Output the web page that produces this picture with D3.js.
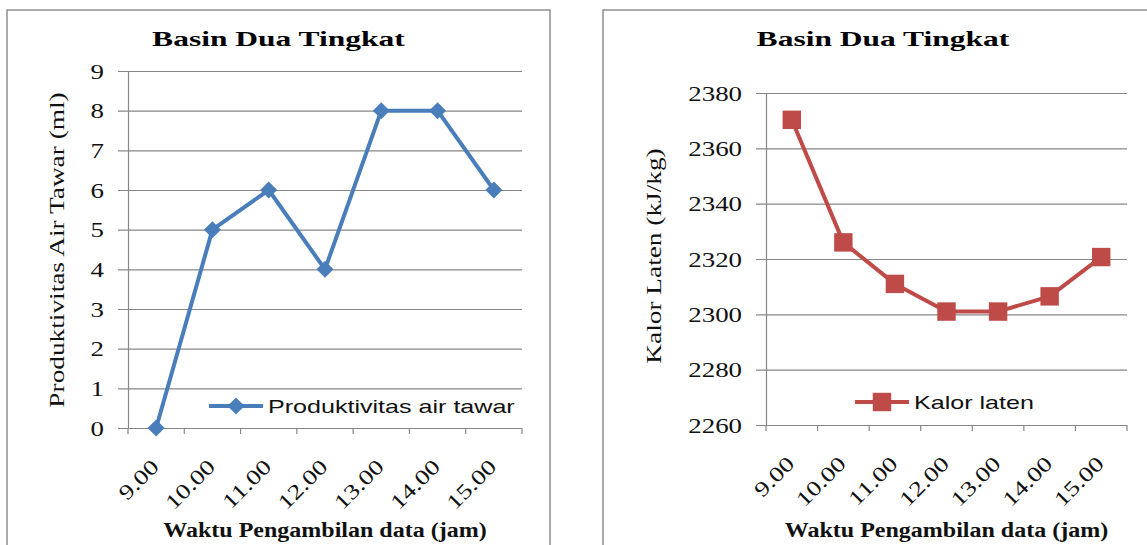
<!DOCTYPE html>
<html>
<head>
<meta charset="utf-8">
<script src="https://cdn.jsdelivr.net/npm/d3@7"></script>
<style>
  body { margin: 0; background: #fff; }
  svg { display: block; }
</style>
</head>
<body>
<svg id="chart"></svg>
<script>
const W = 1147, H = 545;

// data
const times = ["9.00", "10.00", "11.00", "12.00", "13.00", "14.00", "15.00"];
const produktivitas = [0, 5, 6, 4, 8, 8, 6];
const kalorLaten = [2370.3, 2326, 2311, 2301, 2301, 2306.5, 2320.7];
const prodTicks = [0, 1, 2, 3, 4, 5, 6, 7, 8, 9];
const kalorTicks = [2260, 2280, 2300, 2320, 2340, 2360, 2380];

const serif = "'Liberation Serif', 'Times New Roman', serif";
const sans = "'Liberation Sans', Arial, sans-serif";
const gridColor = "#878787";

const svg = d3.select("#chart").attr("width", W).attr("height", H);

// the original fonts render wider than Times/Arial, stretch them a bit
function widen(sel, k) {
  sel.each(function () {
    const w = this.getComputedTextLength();
    d3.select(this).attr("textLength", w * k).attr("lengthAdjust", "spacingAndGlyphs");
  });
}

function drawChart(o) {
  const g = svg.append("g");

  g.append("rect")
    .attr("x", o.frameX)
    .attr("y", 10)
    .attr("width", o.frameW)
    .attr("height", H)
    .attr("fill", "#fff")
    .attr("stroke", "#8f8f8f")
    .attr("stroke-width", 1.5);

  const x = d3.scaleBand().domain(times).range([o.left, o.right]);
  const y = d3.scaleLinear().domain(o.domain).range([o.bottom, o.top]);
  const bw = x.bandwidth();

  // y axis with gridlines
  const ya = g.append("g")
    .attr("transform", `translate(${o.left},0)`)
    .call(d3.axisLeft(y).tickValues(o.ticks).tickSizeOuter(0).tickFormat(d3.format("d")));
  ya.select(".domain").attr("stroke", gridColor).attr("stroke-width", 1.2);
  ya.selectAll(".tick line")
    .attr("x1", -10)
    .attr("x2", o.right - o.left)
    .attr("stroke", gridColor)
    .attr("stroke-width", 1.2);
  const yl = ya.selectAll(".tick text")
    .attr("x", o.labelRight - o.left)
    .attr("dy", "0.34em")
    .attr("fill", "#111")
    .style("font-family", serif)
    .style("font-size", "21px");
  widen(yl, 1.28);

  // x tick marks at category boundaries
  const bounds = times.map((t) => x(t)).concat([o.right]);
  g.append("g")
    .selectAll("line")
    .data(bounds)
    .join("line")
    .attr("x1", (d) => d)
    .attr("x2", (d) => d)
    .attr("y1", o.bottom)
    .attr("y2", o.bottom + 6)
    .attr("stroke", gridColor)
    .attr("stroke-width", 1.2);

  const xl = g.append("g")
    .selectAll("text")
    .data(times)
    .join("text")
    .attr("transform", (d) => `translate(${x(d) + bw / 2 + 4},${o.bottom + 40}) rotate(-45)`)
    .attr("text-anchor", "end")
    .attr("fill", "#111")
    .style("font-family", serif)
    .style("font-size", "21px")
    .text((d) => d);
  widen(xl, 1.28);

  // series line + markers
  const pts = times.map((t, i) => ({ t, v: o.values[i] }));
  const line = d3.line().x((d) => x(d.t) + bw / 2).y((d) => y(d.v));
  g.append("path")
    .datum(pts)
    .attr("d", line)
    .attr("fill", "none")
    .attr("stroke", o.color)
    .attr("stroke-width", 4)
    .attr("stroke-linejoin", "round");

  const sym = d3.symbol().type(d3.symbolSquare).size(o.markerSize);
  g.append("g")
    .selectAll("path")
    .data(pts)
    .join("path")
    .attr("d", sym)
    .attr("transform", (d) => `translate(${x(d.t) + bw / 2},${y(d.v)}) rotate(${o.markerRot})`)
    .attr("fill", o.color);

  // title
  const title = g.append("text")
    .attr("x", o.frameX + o.frameW / 2)
    .attr("y", 46)
    .attr("text-anchor", "middle")
    .style("font-family", serif)
    .style("font-size", "21px")
    .style("font-weight", "bold")
    .text("Basin Dua Tingkat");
  widen(title, 1.5);

  // axis titles
  const yt = g.append("text")
    .attr("transform", `translate(${o.yTitleX},${o.yTitleY}) rotate(-90)`)
    .attr("text-anchor", "middle")
    .attr("fill", "#111")
    .style("font-family", serif)
    .style("font-size", "21px")
    .text(o.yTitle);
  widen(yt, 1.3);

  const xt = g.append("text")
    .attr("x", (o.left + o.right) / 2)
    .attr("y", 537)
    .attr("text-anchor", "middle")
    .attr("fill", "#111")
    .style("font-family", serif)
    .style("font-size", "20px")
    .style("font-weight", "bold")
    .text("Waktu Pengambilan data (jam)");
  widen(xt, 1.2);

  // legend
  const lg = g.append("g").attr("transform", `translate(${o.legendX},${o.legendY})`);
  lg.append("line")
    .attr("x1", 0)
    .attr("x2", 54)
    .attr("stroke", o.color)
    .attr("stroke-width", 4);
  lg.append("path")
    .attr("d", sym)
    .attr("transform", `translate(27,0) rotate(${o.markerRot})`)
    .attr("fill", o.color);
  const lt = lg.append("text")
    .attr("x", 59)
    .attr("y", 7)
    .attr("fill", "#111")
    .style("font-family", sans)
    .style("font-size", "19px")
    .text(o.legend);
  widen(lt, 1.32);
}

drawChart({
  frameX: 7, frameW: 543,
  left: 128, right: 522, top: 71, bottom: 428,
  domain: [0, 9], ticks: prodTicks, values: produktivitas,
  labelRight: 104,
  color: "#4a7ebb", markerSize: 144, markerRot: 45,
  yTitle: "Produktivitas Air Tawar (ml)", yTitleX: 64, yTitleY: 250,
  legend: "Produktivitas air tawar", legendX: 209, legendY: 406
});

drawChart({
  frameX: 603, frameW: 560,
  left: 766, right: 1127, top: 93, bottom: 425,
  domain: [2260, 2380], ticks: kalorTicks, values: kalorLaten,
  labelRight: 742,
  color: "#be4b48", markerSize: 340, markerRot: 0,
  yTitle: "Kalor Laten (kJ/kg)", yTitleX: 661, yTitleY: 256,
  legend: "Kalor laten", legendX: 855, legendY: 402
});
</script>
</body>
</html>
